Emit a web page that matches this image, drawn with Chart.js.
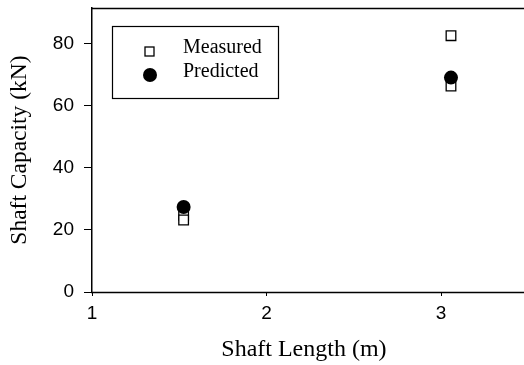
<!DOCTYPE html>
<html><head><meta charset="utf-8">
<script src="https://cdn.jsdelivr.net/npm/chart.js@4.4.1/dist/chart.umd.min.js"></script>
<style>html,body{margin:0;padding:0;background:#fff;overflow:hidden}#wrap{width:524px;height:365px}</style>
</head><body><div id="wrap"><canvas id="c"></canvas></div>
<script>
const seriesNames = ["Measured", "Predicted"];
const measuredX = [1.525, 1.525, 3.057, 3.057];
const measuredY = [24.7, 23.2, 82.6, 66.4];
const predictedX = [1.525, 3.057];
const predictedY = [27.4, 69.1];
const xTicks = [1, 2, 3];
const yTicks = [0, 20, 40, 60, 80];
const xTitle = "Shaft Length (m)";
const yTitle = "Shaft Capacity (kN)";

const toPts = (xs, ys) => xs.map((x, i) => ({x: x, y: ys[i]}));

const legendBox = {
  id: 'legendBox',
  afterDatasetsDraw(chart) {
    const ctx = chart.ctx;
    const a = chart.chartArea;
    const W = chart.width;
    ctx.save();
    ctx.strokeStyle = '#000'; ctx.lineWidth = 1.5;
    ctx.beginPath(); ctx.moveTo(a.left, a.top + 0.5); ctx.lineTo(W, a.top + 0.5); ctx.stroke();
    ctx.beginPath(); ctx.moveTo(a.left - 1, Math.round(a.bottom) + 0.5); ctx.lineTo(W, Math.round(a.bottom) + 0.5); ctx.stroke();
    const bx = 112.5, by = 26.5, bw = 166, bh = 72;
    ctx.fillStyle = '#fff'; ctx.fillRect(bx, by, bw, bh);
    ctx.lineWidth = 1.2;
    ctx.strokeRect(bx, by, bw, bh);
    ctx.font = '20px "Liberation Serif", "Times New Roman", serif';
    ctx.textBaseline = 'middle'; ctx.fillStyle = '#000';
    ctx.lineWidth = 1.3;
    ctx.strokeRect(145, 47, 9, 9);
    ctx.fillText(chart.data.datasets[0].label, 183, 48);
    ctx.beginPath(); ctx.arc(150, 75, 7, 0, Math.PI * 2); ctx.fill();
    ctx.fillText(chart.data.datasets[1].label, 183, 72);
    ctx.restore();
  }
};

new Chart(document.getElementById('c'), {
  type: 'scatter',
  data: {
    datasets: [
      {label: seriesNames[0], data: toPts(measuredX, measuredY), pointStyle: 'rect', pointRadius: 6.8,
       backgroundColor: '#fff', borderColor: '#000', borderWidth: 1.3, order: 2},
      {label: seriesNames[1], data: toPts(predictedX, predictedY), pointStyle: 'circle', pointRadius: 7,
       backgroundColor: '#000', borderColor: '#000', borderWidth: 0, order: 1}
    ]
  },
  options: {
    responsive: true, maintainAspectRatio: false, animation: false,
    layout: {padding: {top: 6, right: 0, bottom: 0, left: 0}},
    plugins: {legend: {display: false}, tooltip: {enabled: false}},
    scales: {
      x: {
        type: 'linear', min: 1, max: 3.429,
        afterBuildTicks: ax => { ax.ticks = xTicks.map(v => ({value: v})); },
        afterFit: ax => { ax.height = 73; ax.paddingLeft = 0; ax.paddingRight = 0; },
        grid: {display: true, drawOnChartArea: false, drawTicks: true, tickLength: 4, color: '#000'},
        border: {display: false},
        ticks: {color: '#000', font: {family: '"Liberation Sans", Arial, sans-serif', size: 19}, padding: 6, maxRotation: 0},
        title: {display: true, text: xTitle, color: '#000', font: {family: '"Liberation Serif", "Times New Roman", serif', size: 24}, padding: {top: 0, bottom: 1}}
      },
      y: {
        type: 'linear', min: 0, max: 91.5,
        afterBuildTicks: ax => { ax.ticks = yTicks.map(v => ({value: v})); },
        afterFit: ax => { ax.width = 92; ax.paddingTop = 0; ax.paddingBottom = 0; },
        grid: {display: true, drawOnChartArea: false, drawTicks: true, tickLength: 8, color: '#000'},
        border: {display: true, color: '#000', width: 1.5},
        ticks: {color: '#000', font: {family: '"Liberation Sans", Arial, sans-serif', size: 19}, padding: 10},
        title: {display: true, text: yTitle, color: '#000', font: {family: '"Liberation Serif", "Times New Roman", serif', size: 23.5}, padding: {top: 6, bottom: 0}}
      }
    }
  },
  plugins: [legendBox]
});
</script></body></html>
